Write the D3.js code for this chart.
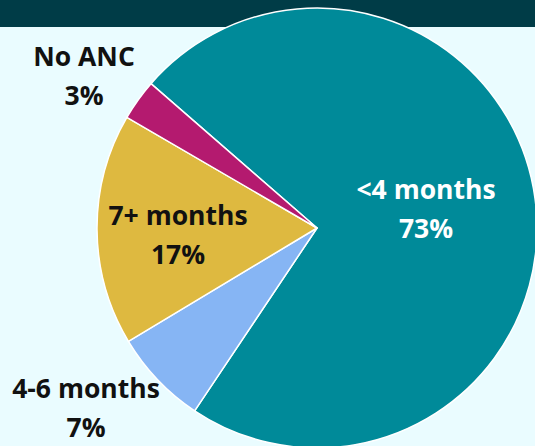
<!DOCTYPE html>
<html>
<head>
<meta charset="utf-8">
<script src="https://cdn.jsdelivr.net/npm/d3@7"></script>
<style>
  html, body { margin: 0; padding: 0; background: #eafcff; }
  svg { display: block; }
</style>
</head>
<body>
<svg id="chart"></svg>
<script>
// data
const categories = ['<4 months', '4-6 months', '7+ months', 'No ANC'];
const values = [73, 7, 17, 3];
const colors = ['#008a99', '#86b5f4', '#deb940', '#b41a6f'];

const width = 535;
const height = 446;
const cx = 317, cy = 228, radius = 220;

const svg = d3.select('#chart')
    .attr('width', width)
    .attr('height', height);

// background + dark band at top
svg.append('rect')
    .attr('width', width).attr('height', height)
    .attr('fill', '#eafcff');
svg.append('rect')
    .attr('width', width).attr('height', 27)
    .attr('fill', '#003c47');

const startA = -49 * Math.PI / 180;
const pie = d3.pie().value(d => d).sort(null)
    .startAngle(startA).endAngle(startA + 2 * Math.PI);

const arc = d3.arc().innerRadius(0).outerRadius(radius);

const g = svg.append('g')
    .attr('transform', `translate(${cx}, ${cy})`);

const arcs = pie(values);

g.selectAll('path')
    .data(arcs)
    .enter().append('path')
    .attr('d', arc)
    .attr('fill', (d, i) => colors[i])
    .attr('stroke', '#ffffff')
    .attr('stroke-width', 1.5)
    .attr('stroke-linejoin', 'round');

// label positions (relative to pie centre)
const labelPos = [
    [109, -29, '#ffffff'],
    [-231, 170, '#111111'],
    [-139, -3, '#111111'],
    [-233, -162, '#111111']
];

const labels = svg.append('g')
    .attr('font-family', '"Open Sans", sans-serif')
    .attr('font-weight', 700)
    .attr('font-size', 26.5)
    .attr('text-anchor', 'middle');

arcs.forEach((d, i) => {
    const [dx, dy, col] = labelPos[i];
    const t = labels.append('text')
        .attr('x', cx + dx)
        .attr('y', cy + dy)
        .attr('fill', col);
    t.append('tspan').attr('x', cx + dx).attr('dy', 0).text(categories[i]);
    t.append('tspan').attr('x', cx + dx).attr('dy', 39).text(values[i] + '%');
});
</script>
</body>
</html>
